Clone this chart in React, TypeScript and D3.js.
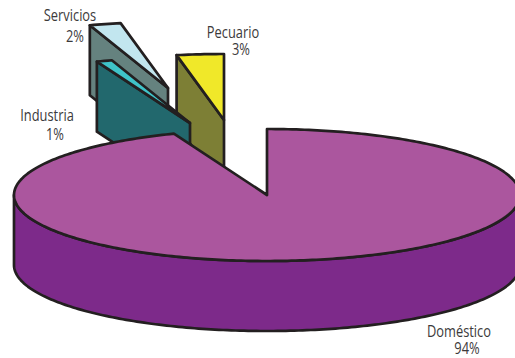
import React from "react";
import * as d3 from "d3";

// Water use by sector, in percent
const sectors = ["Doméstico", "Industria", "Servicios", "Pecuario"];
const shares = [94, 1, 2, 3];
const topColors = ["#ab569e", "#3fc3c8", "#c2e6ef", "#f0e829"];
const wallColors = ["#7d2a8a", "#22686d", "#65827f", "#7d7f35"];

// Where each slice's apex ends up once pulled out of the pie
const apexX = [267, 190, 168, 224];
const apexY = [195, 123, 88, 120];

// Name and percentage anchors for each sector
const nameX = [459, 47, 70, 233];
const nameY = [337, 121, 21, 38];
const shareX = [467, 55, 75, 241];
const shareY = [354, 140, 42, 55];

const WIDTH = 515;
const HEIGHT = 358;
const RX = 253;
const RY = 66;
const DEPTH = 70;
const INK = "#231f20";
const NARROW = 0.83;

type Pt = [number, number];

const slices = d3
  .pie<number>()
  .sort(null)
  .startAngle(0)
  .endAngle(2 * Math.PI)(shares);

const line = d3.line<Pt>();

// Points along the elliptical rim between two clockwise-from-top angles
function rim(i: number, a0: number, a1: number, drop = 0): Pt[] {
  const steps = Math.max(2, Math.ceil(Math.abs(a1 - a0) * 60));
  const angle = d3.scaleLinear().domain([0, steps]).range([a0, a1]);
  return d3.range(steps + 1).map((s) => {
    const a = angle(s);
    return [apexX[i] + RX * Math.sin(a), apexY[i] - RY * Math.cos(a) + drop] as Pt;
  });
}

function Slice({ i }: { i: number }) {
  const { startAngle: a0, endAngle: a1 } = slices[i];
  const apex: Pt = [apexX[i], apexY[i]];
  const top = rim(i, a0, a1);
  const common = { stroke: INK, strokeWidth: 2.7, strokeLinejoin: "round" as const };

  if (i === 0) {
    // The large slice shows its curved outer wall along the front of the ellipse
    const upper = rim(i, Math.PI / 2, (3 * Math.PI) / 2);
    const lower = rim(i, (3 * Math.PI) / 2, Math.PI / 2, DEPTH);
    return (
      <g>
        <path d={line([...upper, ...lower])! + "Z"} fill={wallColors[i]} {...common} />
        <path d={line([apex, ...top])! + "Z"} fill={topColors[i]} {...common} />
      </g>
    );
  }

  // Pulled-out slices show the flat cut face on their leading edge
  const first = top[0];
  const face: Pt[] = [first, apex, [apex[0], apex[1] + DEPTH], [first[0], first[1] + DEPTH]];
  return (
    <g>
      <path d={line(face)! + "Z"} fill={wallColors[i]} {...common} />
      <path d={line([apex, ...top])! + "Z"} fill={topColors[i]} {...common} />
    </g>
  );
}

function Label({ x, y, text }: { x: number; y: number; text: string }) {
  return (
    <text
      transform={`translate(${x},${y}) scale(${NARROW},1)`}
      textAnchor="middle"
      fontFamily="'Open Sans', sans-serif"
      fontSize={15.5}
      fill="#3c3a3b"
    >
      {text}
    </text>
  );
}

export default function App() {
  const drawOrder = [3, 2, 1, 0];
  return (
    <svg
      width={WIDTH}
      height={HEIGHT}
      viewBox={`0 0 ${WIDTH} ${HEIGHT}`}
      style={{ position: "absolute", left: 0, top: 0, background: "#fff" }}
    >
      {drawOrder.map((i) => (
        <Slice key={sectors[i]} i={i} />
      ))}
      {sectors.map((name, i) => (
        <g key={name}>
          <Label x={nameX[i]} y={nameY[i]} text={name} />
          <Label x={shareX[i]} y={shareY[i]} text={`${shares[i]}%`} />
        </g>
      ))}
    </svg>
  );
}
